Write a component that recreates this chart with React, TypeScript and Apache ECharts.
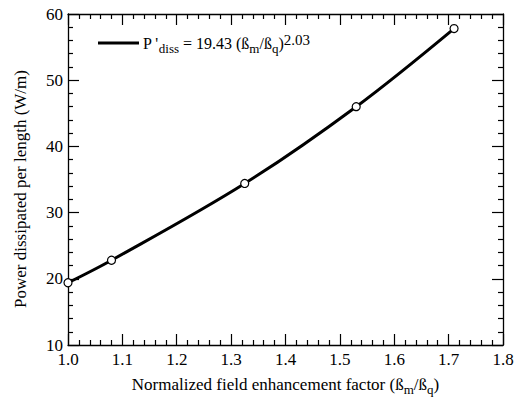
import React, { useEffect, useRef } from "react";
import * as echarts from "echarts";

const xValues = [1.0, 1.08, 1.325, 1.53, 1.71];
const yValues = [19.4, 22.8, 34.4, 46.0, 57.8];
const xTicks = [1.0, 1.1, 1.2, 1.3, 1.4, 1.5, 1.6, 1.7, 1.8];
const yTicks = [10, 20, 30, 40, 50, 60];
const yTitle = "Power dissipated per length (W/m)";

const FONT = "'Liberation Serif', 'Times New Roman', serif";

export default function App() {
  const ref = useRef<HTMLDivElement>(null);
  useEffect(() => {
    if (!ref.current) return;
    const chart = echarts.init(ref.current, undefined, { renderer: "svg" });
    const axisLine = { show: true, lineStyle: { color: "#000", width: 1.3 } };
    const base = { fontSize: 17, fontFamily: FONT, color: "#000" };
    const sub = { fontSize: 13, fontFamily: FONT, color: "#000", padding: [10, 0, 0, 0] };
    const lbase = { fontSize: 16, fontFamily: FONT, color: "#000" };
    const lsub = { fontSize: 13, fontFamily: FONT, color: "#000", padding: [10, 0, 0, 0] };
    const lsup = { fontSize: 15, fontFamily: FONT, color: "#000", padding: [0, 0, 6, 0] };
    const baseX = {
      type: "value",
      min: 1.0,
      max: 1.8,
      interval: 0.1,
      axisLine,
      axisTick: { show: true, inside: true, length: 11, lineStyle: { color: "#000", width: 1.2 } },
      minorTick: { show: true, splitNumber: 5, length: 5, lineStyle: { color: "#000", width: 1.2 } },
      splitLine: { show: false },
    };
    const baseY = {
      type: "value",
      min: 10,
      max: 60,
      interval: 10,
      axisLine,
      axisTick: { show: true, inside: true, length: 11, lineStyle: { color: "#000", width: 1.2 } },
      minorTick: { show: true, splitNumber: 5, length: 5, lineStyle: { color: "#000", width: 1.2 } },
      splitLine: { show: false },
    };
    chart.setOption({
      animation: false,
      backgroundColor: "#fff",
      textStyle: { fontFamily: FONT },
      grid: { left: 68, right: 16, top: 14, bottom: 52, containLabel: false },
      xAxis: [
        {
          ...baseX,
          position: "bottom",
          axisLabel: {
            show: true,
            margin: 6,
            fontSize: 17,
            fontFamily: FONT,
            color: "#000",
            customValues: xTicks,
            formatter: (v: number) => v.toFixed(1),
          },
          name: "{b|Normalized field enhancement factor (ß}{s|m}{b|/ß}{s|q}{b|)}",
          nameLocation: "middle",
          nameGap: 28,
          nameTextStyle: { fontFamily: FONT, rich: { b: base, s: sub } },
        },
        { ...baseX, position: "top", axisLabel: { show: false } },
      ],
      yAxis: [
        {
          ...baseY,
          position: "left",
          axisLabel: {
            show: true,
            margin: 5,
            fontSize: 17,
            fontFamily: FONT,
            color: "#000",
            customValues: yTicks,
          },
        },
        { ...baseY, position: "right", axisLabel: { show: false } },
      ],
      series: [
        {
          type: "line",
          data: xValues.map((x, i) => [x, yValues[i]]),
          smooth: 0.35,
          lineStyle: { color: "#000", width: 3 },
          symbol: "circle",
          symbolSize: 8,
          itemStyle: { color: "#fff", borderColor: "#000", borderWidth: 1.2 },
          z: 3,
        },
      ],
      graphic: [
        {
          type: "text",
          x: 20,
          y: 189,
          rotation: Math.PI / 2,
          style: {
            text: yTitle,
            fontSize: 17,
            fontFamily: FONT,
            fill: "#000",
            align: "center",
            verticalAlign: "middle",
          },
        },
        {
          type: "line",
          shape: { x1: 98, y1: 43, x2: 139, y2: 43 },
          style: { stroke: "#000", lineWidth: 3 },
        },
        {
          type: "text",
          x: 143,
          y: 43,
          style: {
            text: "{b|P '}{s|diss}{b| = 19.43 (ß}{s|m}{b|/ß}{s|q}{b|)}{p|2.03}",
            verticalAlign: "middle",
            align: "left",
            fontFamily: FONT,
            rich: { b: lbase, s: lsub, p: lsup },
          },
        },
      ],
    });
    return () => chart.dispose();
  }, []);
  return (
    <div
      ref={ref}
      style={{ position: "absolute", left: 0, top: 0, width: 519, height: 401 }}
    />
  );
}
